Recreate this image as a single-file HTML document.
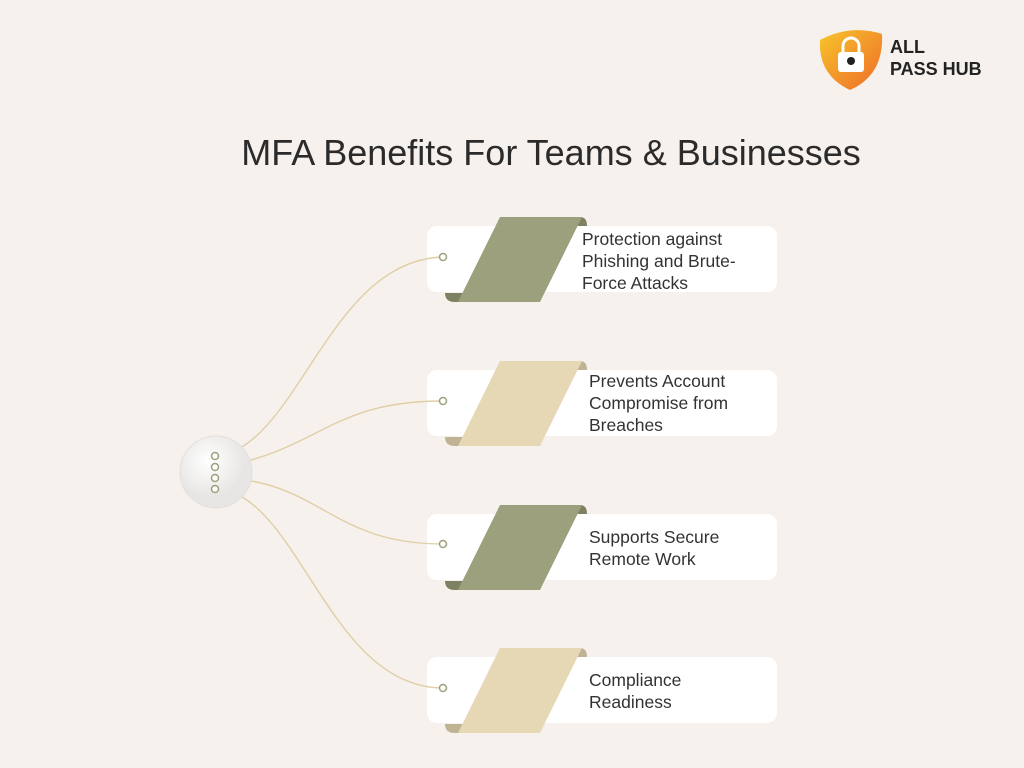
<!DOCTYPE html>
<html><head><meta charset="utf-8"><style>
body{margin:0;width:1024px;height:768px;background:#f6f1ed;font-family:"Liberation Sans",sans-serif;position:relative;overflow:hidden}
.t{position:absolute;left:0;width:1102px;text-align:center;top:132px;font-size:36px;color:#2b2b2b}
.card{position:absolute;left:427px;width:350px;height:66px;background:#fff;border-radius:10px}
.txt{position:absolute;font-size:17.5px;line-height:22px;color:#333}
.logo{position:absolute;left:890px;top:36px;font-size:18px;font-weight:bold;line-height:22px;color:#222}
</style></head><body>
<div class="t">MFA Benefits For Teams &amp; Businesses</div>
<div class="logo">ALL<br>PASS HUB</div>
<div class="card" style="top:226px"></div>
<div class="card" style="top:370px"></div>
<div class="card" style="top:514px"></div>
<div class="card" style="top:657px"></div>
<svg width="1024" height="768" style="position:absolute;left:0;top:0">
<defs><linearGradient id="g" x1="0" y1="0" x2="1" y2="1"><stop offset="0" stop-color="#f7c52a"/><stop offset="1" stop-color="#ee6a2a"/></linearGradient>
<radialGradient id="c" cx="0.4" cy="0.35"><stop offset="0" stop-color="#fff"/><stop offset="1" stop-color="#e8e6e4"/></radialGradient></defs>
<path d="M820 40 Q850 24 882 34 Q884 75 850 90 Q818 75 820 40Z" fill="url(#g)"/>
<path d="M843 52 v-6 a8 8 0 0 1 16 0 v6" fill="none" stroke="#fff" stroke-width="3"/>
<rect x="838" y="52" width="26" height="20" rx="3" fill="#fff"/><circle cx="851" cy="61" r="4" fill="#222"/>
<g fill="none" stroke="#e0cfa5" stroke-width="1.4">
<path d="M220 456 C300 440 330 260 443 257"/>
<path d="M220 467 C320 450 330 401 443 401"/>
<path d="M220 478 C320 480 330 544 443 544"/>
<path d="M220 489 C300 500 330 688 443 688"/>
</g>
<circle cx="216" cy="472" r="36" fill="url(#c)" stroke="#e2dfdc"/>
<g fill="#fff" stroke="#9da07c" stroke-width="1.5">
<circle cx="215" cy="456" r="3.5"/><circle cx="215" cy="467" r="3.5"/><circle cx="215" cy="478" r="3.5"/><circle cx="215" cy="489" r="3.5"/>
<circle cx="443" cy="257" r="3.5"/><circle cx="443" cy="401" r="3.5"/><circle cx="443" cy="544" r="3.5"/><circle cx="443" cy="688" r="3.5"/>
</g>
<g>
<path d="M570 217 H580 Q587 217 587 226 H570Z" fill="#7f8262"/>
<path d="M445 293 H470 V302 H455 Q445 302 445 293Z" fill="#7f8262"/>
<path d="M500 217 H582 L540 302 H458Z" fill="#9da07c"/>
</g>
<g transform="translate(0,144)">
<path d="M570 217 H580 Q587 217 587 226 H570Z" fill="#bfb394"/>
<path d="M445 293 H470 V302 H455 Q445 302 445 293Z" fill="#bfb394"/>
<path d="M500 217 H582 L540 302 H458Z" fill="#e6d8b5"/>
</g>
<g transform="translate(0,288)">
<path d="M570 217 H580 Q587 217 587 226 H570Z" fill="#7f8262"/>
<path d="M445 293 H470 V302 H455 Q445 302 445 293Z" fill="#7f8262"/>
<path d="M500 217 H582 L540 302 H458Z" fill="#9da07c"/>
</g>
<g transform="translate(0,431)">
<path d="M570 217 H580 Q587 217 587 226 H570Z" fill="#bfb394"/>
<path d="M445 293 H470 V302 H455 Q445 302 445 293Z" fill="#bfb394"/>
<path d="M500 217 H582 L540 302 H458Z" fill="#e6d8b5"/>
</g>
</svg>
<div class="txt" style="left:582px;top:228px">Protection against<br>Phishing and Brute-<br>Force Attacks</div>
<div class="txt" style="left:589px;top:370px">Prevents Account<br>Compromise from<br>Breaches</div>
<div class="txt" style="left:589px;top:526px">Supports Secure<br>Remote Work</div>
<div class="txt" style="left:589px;top:669px">Compliance<br>Readiness</div>
</body></html>
